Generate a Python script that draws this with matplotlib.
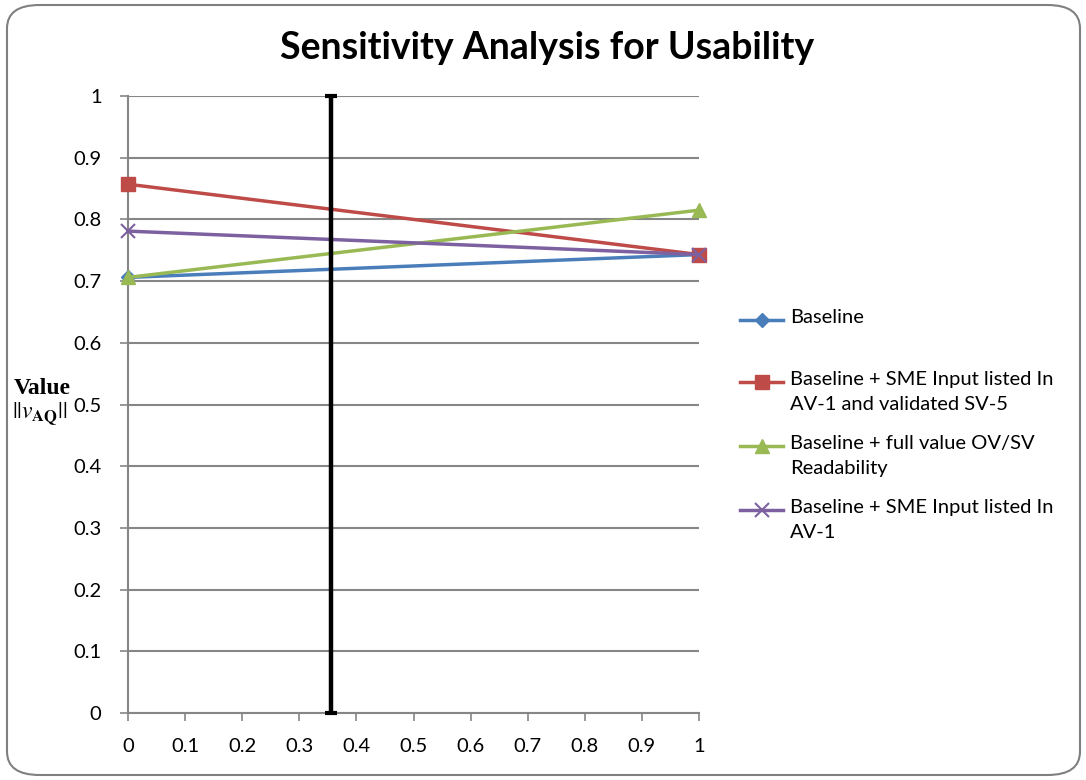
import numpy as np
import matplotlib.pyplot as plt
from matplotlib.lines import Line2D
from matplotlib.patches import FancyBboxPatch

# Data
x = [0, 1]
baseline = [0.706, 0.743]
sme_av1_sv5 = [0.857, 0.743]
full_ovsv = [0.706, 0.815]
sme_av1 = [0.781, 0.743]
marker_x = 0.355

labels = ['Baseline',
          'Baseline + SME Input listed In\nAV-1 and validated SV-5',
          'Baseline + full value OV/SV\nReadability',
          'Baseline + SME Input listed In\nAV-1']
colors = ['#4A7EBB', '#BE4B48', '#98B954', '#7D60A0']
markers = ['D', 's', '^', 'x']
msizes = [7, 10, 10, 10]

plt.rcParams['font.family'] = ['Lato', 'DejaVu Sans']

fig = plt.figure(figsize=(10.86, 7.8), dpi=100)
ax = fig.add_axes([128 / 1086, 1 - 713 / 780, (699 - 128) / 1086, (713 - 96) / 780])

series = [baseline, sme_av1_sv5, full_ovsv, sme_av1]
for s, c, m, ms in zip(series, colors, markers, msizes):
    ax.plot(x, s, color=c, lw=2.5, marker=m, markersize=ms,
            markeredgewidth=1.5 if m == 'x' else 1, clip_on=False, zorder=3)

ax.errorbar([marker_x], [0.5], yerr=[0.5], color='black', elinewidth=3.2,
            capsize=4, capthick=3, fmt='none', zorder=4, clip_on=False)

ax.set_xlim(0, 1)
ax.set_ylim(0, 1)
ticklabels = ['0', '0.1', '0.2', '0.3', '0.4', '0.5', '0.6', '0.7', '0.8', '0.9', '1']
ax.set_xticks(np.arange(0, 1.01, 0.1))
ax.set_xticklabels(ticklabels)
ax.set_yticks(np.arange(0, 1.01, 0.1))
ax.set_yticklabels(ticklabels)
ax.tick_params(labelsize=14.5, length=6, width=1.2, color='#868686')
ax.tick_params(axis='y', pad=13)
ax.tick_params(axis='x', pad=12)
ax.grid(axis='y', color='#868686', lw=1.5)
ax.set_axisbelow(True)
for sp in ['top', 'right']:
    ax.spines[sp].set_visible(False)
for sp in ['left', 'bottom']:
    ax.spines[sp].set_color('#868686')
    ax.spines[sp].set_linewidth(1.5)

fig.text(547 / 1086, 1 - 48 / 780, 'Sensitivity Analysis for Usability',
         ha='center', va='center', fontsize=27, fontweight='bold')

fig.text(14 / 1086, 1 - 388 / 780, 'Value', ha='left', va='center',
         fontsize=17, fontweight='bold', family='Liberation Serif')
fig.text(12 / 1086, 1 - 414 / 780, r'$||\mathit{v}_{\mathbf{AQ}}||$', ha='left', va='center',
         fontsize=17, math_fontfamily='stix')

# legend drawn by hand so the marker sits on the first line of each label
leg_y = [320, 382, 446, 510]
for lab, c, m, ms, yy in zip(labels, colors, markers, msizes, leg_y):
    yf = 1 - yy / 780
    fig.add_artist(Line2D([740 / 1086, 783 / 1086], [yf, yf], color=c, lw=2.5,
                          transform=fig.transFigure))
    fig.add_artist(Line2D([762 / 1086], [yf], color=c, marker=m, markersize=ms,
                          markeredgewidth=1.5 if m == 'x' else 1, transform=fig.transFigure))
    fig.text(790 / 1086, yf + 11 / 780, lab, ha='left', va='top', fontsize=14.5,
             linespacing=1.6)

frame = FancyBboxPatch((7 / 1086, 5 / 780), 1073 / 1086, 770 / 780,
                       boxstyle='round,pad=0,rounding_size=0.03',
                       transform=fig.transFigure, fill=False, edgecolor='#808080', lw=1.5)
fig.add_artist(frame)

fig.savefig('out.png', dpi=100)
